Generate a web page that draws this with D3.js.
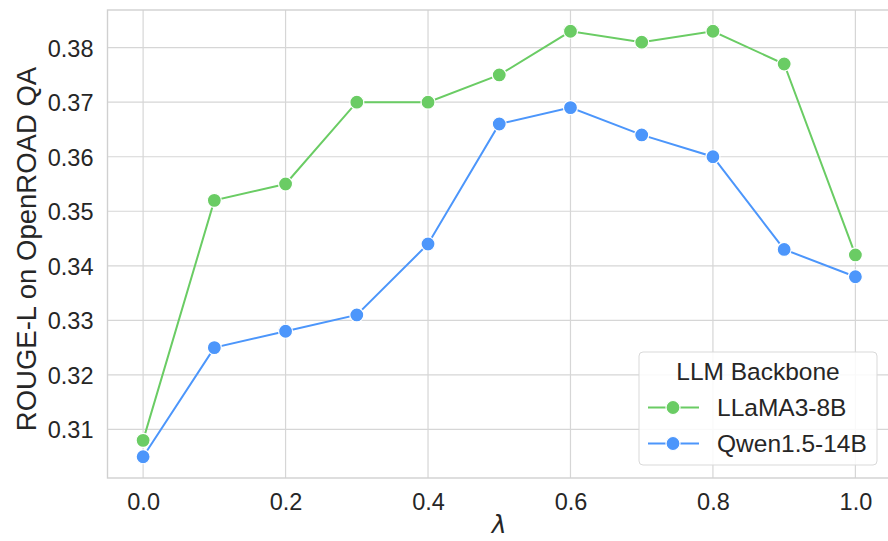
<!DOCTYPE html>
<html><head><meta charset="utf-8">
<script src="https://cdn.jsdelivr.net/npm/d3@7/dist/d3.min.js"></script>
<style>
html,body{margin:0;padding:0;background:#fff;}
svg{display:block;font-family:"Liberation Sans",Arial,Helvetica,sans-serif;}
</style></head><body>
<svg id="chart" width="888" height="541"></svg>
<script>
const lambdas = [0.0, 0.1, 0.2, 0.3, 0.4, 0.5, 0.6, 0.7, 0.8, 0.9, 1.0];
const llama = [0.308, 0.352, 0.355, 0.370, 0.370, 0.375, 0.383, 0.381, 0.383, 0.377, 0.342];
const qwen = [0.305, 0.325, 0.328, 0.331, 0.344, 0.366, 0.369, 0.364, 0.360, 0.343, 0.338];
const seriesNames = ["LLaMA3-8B", "Qwen1.5-14B"];
const seriesColors = ["#6acc64", "#4c96fb"];
const xTicks = [0.0, 0.2, 0.4, 0.6, 0.8, 1.0];
const yTicks = [0.31, 0.32, 0.33, 0.34, 0.35, 0.36, 0.37, 0.38];

const svg = d3.select("#chart");
const L = 107.5, R = 891, T = 10, B = 478;
const x = d3.scaleLinear().domain([-0.05, 1.05]).range([L, R]);
const y = d3.scaleLinear().domain([0.3011, 0.3869]).range([B, T]);

// grid
const g = svg.append("g");
g.selectAll(".vg").data(xTicks).enter().append("line")
  .attr("x1", d => x(d)).attr("x2", d => x(d)).attr("y1", T).attr("y2", B)
  .attr("stroke", "#d6d6d6").attr("stroke-width", 1.2);
g.selectAll(".hg").data(yTicks).enter().append("line")
  .attr("x1", L).attr("x2", R).attr("y1", d => y(d)).attr("y2", d => y(d))
  .attr("stroke", "#d6d6d6").attr("stroke-width", 1.2);
// frame
svg.append("rect").attr("x", L).attr("y", T).attr("width", R - L).attr("height", B - T)
  .attr("fill", "none").attr("stroke", "#d0d0d0").attr("stroke-width", 1.4);

// axes via d3
const xAxis = svg.append("g").attr("transform", `translate(0,${B})`)
  .call(d3.axisBottom(x).tickValues(xTicks).tickFormat(d3.format(".1f")).tickSize(0).tickPadding(13));
const yAxis = svg.append("g").attr("transform", `translate(${L},0)`)
  .call(d3.axisLeft(y).tickValues(yTicks).tickFormat(d3.format(".2f")).tickSize(0).tickPadding(14));
[xAxis, yAxis].forEach(a => {
  a.select(".domain").remove();
  a.selectAll("text").attr("font-size", 23.5).attr("fill", "#262626")
    .attr("font-family", "'Liberation Sans',Arial,sans-serif");
});
xAxis.selectAll("text").attr("dy", null).attr("y", 32);
yAxis.selectAll("text").attr("dy", "0.36em").attr("x", -14);

// axis labels
svg.append("text").attr("x", x(0.5)).attr("y", 533).attr("text-anchor", "middle")
  .attr("font-size", 25).attr("font-style", "italic").attr("fill", "#262626")
  .attr("font-family", "'DejaVu Sans',sans-serif").text("λ");
svg.append("text").attr("transform", `translate(35.5,${(T + B) / 2 + 5}) rotate(-90)`)
  .attr("text-anchor", "middle").attr("font-size", 27.5).attr("fill", "#262626")
  .text("ROUGE-L on OpenROAD QA");

// lines
const datasets = [llama, qwen];
const line = d3.line().x((d, i) => x(lambdas[i])).y(d => y(d));
datasets.forEach((ds, k) => {
  svg.append("path").datum(ds).attr("d", line).attr("fill", "none")
    .attr("stroke", seriesColors[k]).attr("stroke-width", 2);
});
datasets.forEach((ds, k) => {
  svg.selectAll(".pt" + k).data(ds).enter().append("circle")
    .attr("cx", (d, i) => x(lambdas[i])).attr("cy", d => y(d)).attr("r", 7)
    .attr("fill", seriesColors[k]).attr("stroke", "#fff").attr("stroke-width", 1.2);
});

// legend
const lg = svg.append("g");
lg.append("rect").attr("x", 639).attr("y", 352).attr("width", 238).attr("height", 113)
  .attr("rx", 4).attr("fill", "#fff").attr("fill-opacity", 0.85)
  .attr("stroke", "#d9d9d9").attr("stroke-width", 1);
lg.append("text").attr("x", 758).attr("y", 380).attr("text-anchor", "middle")
  .attr("font-size", 24.5).attr("fill", "#262626").text("LLM Backbone");
seriesNames.forEach((nm, k) => {
  const yy = 407.5 + k * 36;
  lg.append("line").attr("x1", 648).attr("x2", 699).attr("y1", yy).attr("y2", yy)
    .attr("stroke", seriesColors[k]).attr("stroke-width", 2);
  lg.append("circle").attr("cx", 673).attr("cy", yy).attr("r", 7)
    .attr("fill", seriesColors[k]).attr("stroke", "#fff").attr("stroke-width", 1.2);
  lg.append("text").attr("x", 717).attr("y", yy + 8.5).attr("font-size", 24.5)
    .attr("fill", "#262626").text(nm);
});
</script>
</body></html>
